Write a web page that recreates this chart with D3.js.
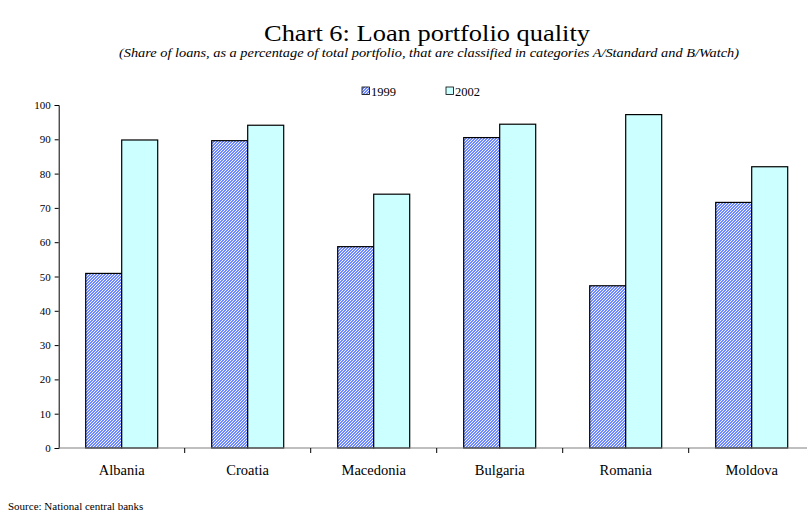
<!DOCTYPE html>
<html><head><meta charset="utf-8">
<script src="https://cdn.jsdelivr.net/npm/d3@7"></script>
<style>body{margin:0;background:#fff}svg{display:block}text{font-family:"Liberation Serif","DejaVu Serif",serif;fill:#000}</style>
</head><body><svg id="c" width="807" height="512"></svg>
<script>
const categories = ["Albania","Croatia","Macedonia","Bulgaria","Romania","Moldova"];
const seriesNames = ["1999","2002"];
const values1999 = [50.9, 89.6, 58.7, 90.5, 47.3, 71.6];
const values2002 = [89.8, 94.1, 74.0, 94.4, 97.2, 82.0];
const yTicks = [0,10,20,30,40,50,60,70,80,90,100];

(function(){
const svg = d3.select("#c");
const defs = svg.append("defs");
const pat = defs.append("pattern").attr("id","hatch").attr("patternUnits","userSpaceOnUse")
  .attr("width",3).attr("height",3);
pat.append("rect").attr("width",3).attr("height",3).attr("fill","#f2f5ff");
const px = [];
for (let i=0;i<3;i++) for (let j=0;j<3;j++) if (((i + j) % 3) < 1.5) px.push([i,j]);
pat.selectAll("rect.p").data(px).join("rect").attr("class","p")
  .attr("x",d=>d[0]).attr("y",d=>d[1]).attr("width",1).attr("height",1)
  .attr("fill","#6e88ff").attr("shape-rendering","crispEdges");

const plotLeft = 58.7, plotBottom = 448, plotTop = 105;
const band = 126;
const x = d3.scaleBand().domain(categories).range([plotLeft, plotLeft + band*categories.length]).paddingInner(0).paddingOuter(0);
const y = d3.scaleLinear().domain([0,100]).range([plotBottom, plotTop]);
const barW = 36;
const fills = ["url(#hatch)", "#ccffff"];
const data = [values1999, values2002];

svg.append("text").attr("x",427).attr("y",41).attr("text-anchor","middle").attr("font-size",24)
  .attr("textLength",326).attr("lengthAdjust","spacingAndGlyphs").text("Chart 6: Loan portfolio quality");
svg.append("text").attr("x",429).attr("y",57).attr("text-anchor","middle").attr("font-size",12).attr("font-style","italic")
  .attr("textLength",620).attr("lengthAdjust","spacingAndGlyphs")
  .text("(Share of loans, as a percentage of total portfolio, that are classified in categories A/Standard and B/Watch)");

const legX = [362, 446];
seriesNames.forEach((s,i)=>{
  svg.append("rect").attr("x",legX[i]).attr("y",87).attr("width",7.5).attr("height",7.5)
    .attr("fill",fills[i]).attr("stroke","#000").attr("stroke-width",0.8);
  svg.append("text").attr("x",legX[i]+9).attr("y",95.5).attr("font-size",12.5).text(s);
});

data.forEach((vals,si)=>{
  svg.append("g").selectAll("rect").data(vals).join("rect")
    .attr("x",(d,i)=>x(categories[i]) + band/2 - barW + si*barW)
    .attr("y",d=>y(d)).attr("width",barW).attr("height",d=>plotBottom - y(d))
    .attr("fill",fills[si]).attr("stroke","#000").attr("stroke-width",1.2);
});

const ya = svg.append("g").attr("transform",`translate(${plotLeft},0)`)
  .call(d3.axisLeft(y).tickValues(yTicks).tickSize(4).tickPadding(4));
ya.attr("font-family",null);
ya.select(".domain").attr("stroke","#000");
ya.selectAll("text").attr("font-size",11).attr("fill","#000");

svg.append("line").attr("x1",plotLeft).attr("x2",807).attr("y1",plotBottom).attr("y2",plotBottom).attr("stroke","#808080").attr("stroke-width",1.2);
const xa = svg.append("g");
xa.selectAll("line").data(categories.slice(1)).join("line")
  .attr("x1",d=>x(d)).attr("x2",d=>x(d)).attr("y1",plotBottom).attr("y2",plotBottom+5).attr("stroke","#000");
xa.selectAll("text").data(categories).join("text")
  .attr("x",d=>x(d)+band/2).attr("y",plotBottom+27).attr("text-anchor","middle").attr("font-size",14.5).text(d=>d);

svg.append("text").attr("x",8).attr("y",510).attr("font-size",11).text("Source: National central banks");
})();
</script></body></html>
